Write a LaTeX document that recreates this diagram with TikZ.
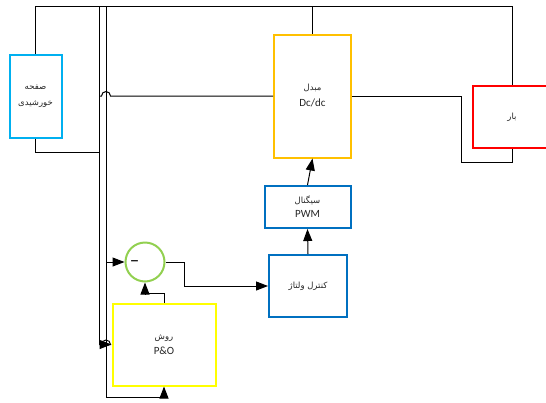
\documentclass[tikz,border=0pt]{standalone}
\usepackage{fontspec}
\setmainfont{Carlito}
\newfontfamily\farsi[Script=Arabic]{DejaVu Sans}
\TeXXeTstate=1
\newcommand{\fatext}[1]{{\farsi\fontsize{8.5}{10}\selectfont\beginR #1\endR}}
\usepackage{xcolor}
\definecolor{solar-border}{HTML}{00B0F0}
\definecolor{conv-border}{HTML}{FFC000}
\definecolor{load-border}{HTML}{FF0000}
\definecolor{ctrl-border}{HTML}{0070C0}
\definecolor{sum-border}{HTML}{92D050}
\definecolor{po-border}{HTML}{FFFF00}
\usepackage{tikz}
\usetikzlibrary{
  shapes.geometric,
  arrows.meta,
  positioning,
  calc
}

\begin{document}
\begin{tikzpicture}[
    x=1pt, y=-1pt,
    block/.style={
      rectangle,
      draw,
      line width=2pt,
      fill=white,
      inner sep=0pt,
      font=\fontsize{11}{13}\selectfont,
      text=black!85,
      align=center
    },
    wire/.style={
      line width=1pt,
      color=black
    },
    sig/.style={
      wire,
      -{Triangle[length=12pt,width=9pt]}
    }
  ]
    \useasboundingbox (0,0) rectangle (546,402);

    \node[block, draw=solar-border, minimum width=52pt, minimum height=83pt] (solar) at (35.5,96)  {\fatext{صفحه}\\[3pt]\fatext{خورشیدی}};
    \node[block, draw=conv-border,  minimum width=77pt, minimum height=123pt] (conv) at (312.5,96) {\fatext{مبدل}\\[3pt]Dc/dc};
    \node[block, draw=load-border,  minimum width=78pt, minimum height=62pt] (load) at (512,117)   {\fatext{بار}};
    \node[block, draw=ctrl-border,  minimum width=86pt, minimum height=42pt] (pwm)  at (307.5,207) {\fatext{سیگنال}\\[1pt]PWM};
    \node[block, draw=ctrl-border,  minimum width=78pt, minimum height=62pt] (vctrl) at (308,286)  {\fatext{کنترل ولتاژ}};
    \node[block, draw=po-border,    minimum width=103pt, minimum height=82pt] (po)  at (164,344.5) {\fatext{روش}\\[2pt]P\&O};
    \node[circle, draw=sum-border, line width=2pt, minimum size=39pt, inner sep=0pt] (sum) at (145,262) {};
    \node[font=\fontsize{19}{19}\selectfont, inner sep=0pt] (sign) at (134.5,264) {–};

    % junction points on the two left rails
    \coordinate (railA) at (99,6);
    \coordinate (railB) at (106,6);

    % power side
    \draw[wire] (solar.north) |- (load.north |- railA) -- (load.north);
    \draw[wire] (conv.north) -- (conv.north |- railA);
    \draw[wire] (solar.south) |- (99,152);
    \draw[wire] (99,96) -- (101.5,96) arc[start angle=180, end angle=360, radius=4.5] -- (conv.west);
    \draw[wire] (conv.east) -| (461,162) -| (load.south);
    % measuring rails
    \draw[wire] (railA) -- (99,344.5);
    \draw[sig] (99,344.5) -- (101.5,344.5) arc[start angle=180, end angle=360, radius=4.5] -- (po.west);
    \draw[sig] (railB) |- (po.south |- 0,397) -- (po.south);
    \draw[sig] (106,262) -- (sum.west);
    % control loop
    \draw[sig] (po.north) -- ++(0,-9) -| (sum.south);
    \draw[sig] (sum.east) -- ++(19,0) |- (vctrl.west);
    \draw[sig] (vctrl.north) -- (pwm.south);
    \draw[sig] (pwm.north) -- (conv.south);
  \end{tikzpicture}
\end{document}
